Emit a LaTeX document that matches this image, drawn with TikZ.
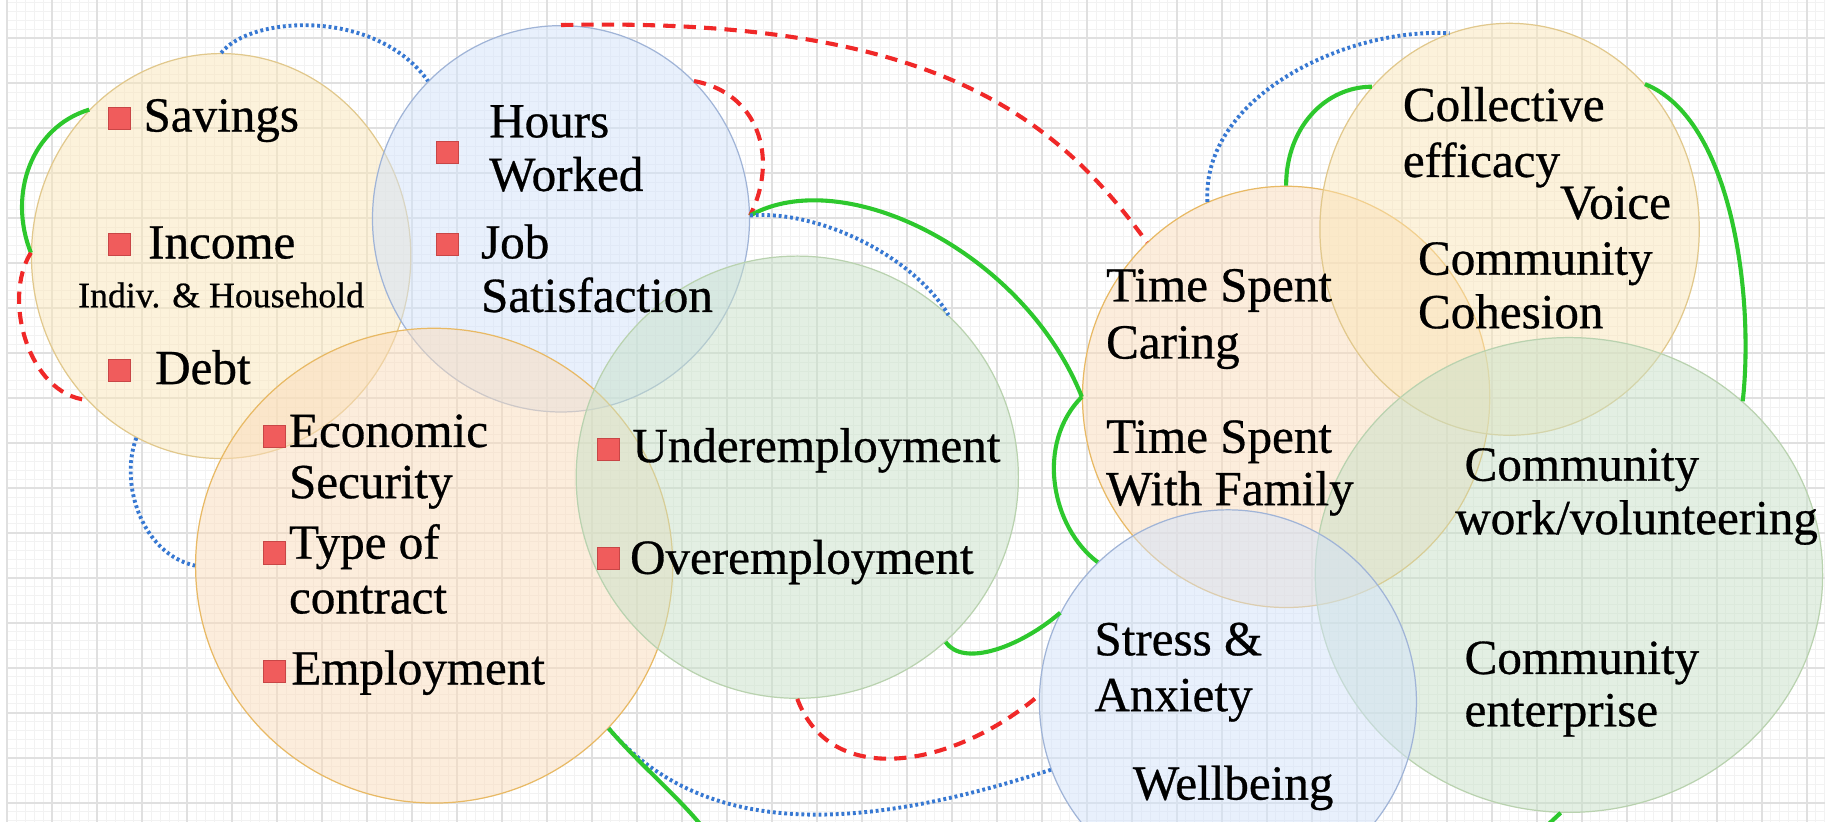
\documentclass[tikz,border=0pt]{standalone}
\usepackage{fontspec}
\setmainfont{Liberation Serif}[FakeBold=0.6]
\usetikzlibrary{shapes.geometric}
\definecolor{gridmajor}{RGB}{224,224,224}
\definecolor{gridminor}{RGB}{242,242,242}
\definecolor{yelfill}{RGB}{251,230,184}
\definecolor{yeldraw}{RGB}{225,200,140}
\definecolor{blufill}{RGB}{210,226,250}
\definecolor{bludraw}{RGB}{160,180,215}
\definecolor{orafill}{RGB}{251,220,186}
\definecolor{oradraw}{RGB}{232,185,100}
\definecolor{grefill}{RGB}{200,225,200}
\definecolor{gredraw}{RGB}{185,210,175}
\definecolor{bulfill}{RGB}{240,92,92}
\definecolor{buldraw}{RGB}{200,70,70}
\definecolor{lgreen}{RGB}{45,200,45}
\definecolor{lred}{RGB}{240,40,40}
\definecolor{lblue}{RGB}{55,120,210}
\tikzset{
  blob/.style={ellipse, inner sep=0pt, line width=0.6pt, fill opacity=0.5},
  yelc/.style={blob, draw=yeldraw, fill=yelfill},
  bluc/.style={blob, draw=bludraw, fill=blufill},
  orac/.style={blob, draw=oradraw, fill=orafill},
  grec/.style={blob, draw=gredraw, fill=grefill},
  lbl/.style={anchor=base west, inner sep=0pt, font=\fontsize{24}{26}\selectfont},
  sml/.style={anchor=base, inner sep=0pt, font=\fontsize{17.5}{19}\selectfont},
  bul/.style={draw=buldraw, fill=bulfill, minimum size=0.38cm, inner sep=0pt, line width=0.4pt},
  gline/.style={draw=lgreen, line width=2pt},
  rline/.style={draw=lred, line width=2pt, dash pattern=on 6pt off 4pt},
  bline/.style={draw=lblue, line width=1.9pt, dash pattern=on 1.4pt off 1.4pt},
}
\begin{document}
\begin{tikzpicture}[x=0.02cm, y=-0.02cm]
\useasboundingbox (0,0) rectangle (1568,706);
\fill[white] (0,0) rectangle (1568,706);
% grid
\foreach \i in {0,...,202} \draw[gridminor, line width=0.4pt] ({6+\i*7.732},0) -- ({6+\i*7.732},706);
\foreach \i in {0,...,91} \draw[gridminor, line width=0.4pt] (6,{1.67+\i*7.732}) -- (1568,{1.67+\i*7.732});
\foreach \i in {0,...,40} \draw[gridmajor, line width=0.8pt] ({6+\i*38.66},0) -- ({6+\i*38.66},706);
\foreach \i in {0,...,17} \draw[gridmajor, line width=0.8pt] (6,{32.6+\i*38.66}) -- (1568,{32.6+\i*38.66});

% circles
\node[yelc, minimum width=6.52cm, minimum height=6.96cm] (A) at (190,220) {};
\node[bluc, minimum width=6.48cm, minimum height=6.64cm] (B) at (482,188) {};
\node[orac, minimum width=8.2cm, minimum height=8.16cm] (C) at (373,486) {};
\node[grec, minimum width=7.6cm, minimum height=7.6cm] (D) at (685,410) {};
\node[orac, minimum width=7.0cm, minimum height=7.24cm] (E) at (1105,341) {};
\node[yelc, minimum width=6.52cm, minimum height=7.08cm] (F) at (1297,197) {};
\node[grec, minimum width=8.72cm, minimum height=8.16cm] (G) at (1348,494) {};
\node[bluc, minimum width=6.48cm, minimum height=6.6cm] (H) at (1055,603) {};

\coordinate (c1) at (612,722);
\coordinate (c2) at (1322,716);

% connectors
\draw[bline] (A.90) .. controls +(25,-32) and +(-45,-63) .. (B.134);
\draw[gline] (A.132) .. controls +(-50,15) and +(-20,-50) .. (A.179);
\draw[rline] (A.179) .. controls +(-25,40) and +(-50,-5) .. (A.227);
\draw[bline] (A.245) .. controls +(-15,40) and +(-45,-10) .. (C.180);
\draw[rline] (B.90) .. controls +(318,-7) and +(-80,-110) .. (E.132);
\draw[rline] (B.46) .. controls +(55,10) and +(25,-50) .. (B.1);
\draw[gline] (B.1) .. controls +(80,-45) and +(-50,-125) .. (E.180);
\draw[gline] (E.180) .. controls +(-40,40) and +(-40,-30) .. (H.133);
\draw[bline] (B.1) .. controls +(60,-5) and +(-30,-50) .. (D.47);
\draw[gline] (D.-48) .. controls +(15,22) and +(-35,30) .. (H.152);
\draw[rline] (D.-90) .. controls +(30,80) and +(-70,60) .. (H.178);
\draw[bline] (C.-43) .. controls +(90,105) and +(-140,45) .. (H.201);
\draw[gline] (C.-43) .. controls +(30,35) and +(-20,-30) .. (c1);
\draw[bline] (E.112) .. controls +(-5,-90) and +(-90,-5) .. (F.107);
\draw[gline] (E.90) .. controls +(0,-50) and +(-40,0) .. (F.134);
\draw[gline] (F.47) .. controls +(75,30) and +(10,-90) .. (G.45);
\draw[gline] (G.-92) -- (c2);

% bullets
\node[bul] (b1) at (102.5,102) {};
\node[bul] (b2) at (102.5,210) {};
\node[bul] (b3) at (102.5,318) {};
\node[bul] (b4) at (384.5,131) {};
\node[bul] (b5) at (384.5,210) {};
\node[bul] (b6) at (235.5,375) {};
\node[bul] (b7) at (235.5,475) {};
\node[bul] (b8) at (235.5,577) {};
\node[bul] (b9) at (522.5,386) {};
\node[bul] (b10) at (522.5,480) {};

% labels
\node[lbl] (t1) at (123,113) {Savings};
\node[lbl] (t2) at (127,222) {Income};
\node[sml] (t2b) at (190,264) {Indiv. \& Household};
\node[lbl] (t3) at (133,330) {Debt};
\node[lbl] (t4a) at (420,118) {Hours};
\node[lbl] (t4b) at (420,164) {Worked};
\node[lbl] (t5a) at (413,222) {Job};
\node[lbl] (t5b) at (413,268) {Satisfaction};
\node[lbl] (t6a) at (248,384) {Economic};
\node[lbl] (t6b) at (248,428) {Security};
\node[lbl] (t7a) at (248,480) {Type of};
\node[lbl] (t7b) at (248,527) {contract};
\node[lbl] (t8) at (250,588) {Employment};
\node[lbl] (t9) at (543,397) {Underemployment};
\node[lbl] (t10) at (541,493) {Overemployment};
\node[lbl] (t11a) at (950,259) {Time Spent};
\node[lbl] (t11b) at (950,308) {Caring};
\node[lbl] (t12a) at (950,389) {Time Spent};
\node[lbl] (t12b) at (950,434) {With Family};
\node[lbl] (t13a) at (1205,104) {Collective};
\node[lbl] (t13b) at (1205,152) {efficacy};
\node[lbl] (t14) at (1340,188) {Voice};
\node[lbl] (t15a) at (1218,236) {Community};
\node[lbl] (t15b) at (1218,282) {Cohesion};
\node[lbl] (t16a) at (1258,413) {Community};
\node[lbl] (t16b) at (1250,459) {work/volunteering};
\node[lbl] (t17a) at (1258,579) {Community};
\node[lbl] (t17b) at (1258,624) {enterprise};
\node[lbl] (t18a) at (940,563) {Stress \&};
\node[lbl] (t18b) at (940,611) {Anxiety};
\node[lbl] (t19) at (973,687) {Wellbeing};
\end{tikzpicture}
\end{document}
